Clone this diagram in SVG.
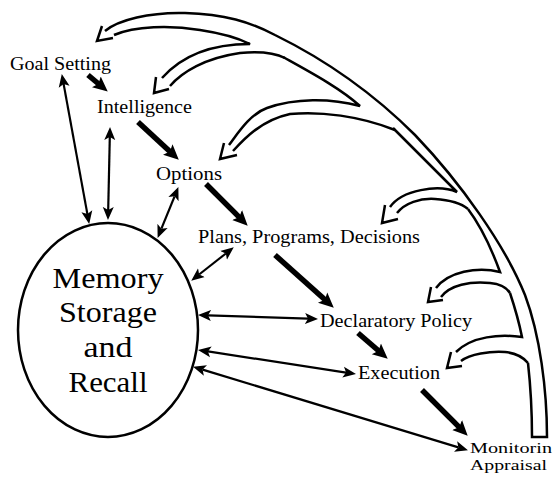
<svg xmlns="http://www.w3.org/2000/svg" width="554" height="477" viewBox="0 0 554 477">
<style>
text{font-family:"Liberation Serif","DejaVu Serif",serif;fill:#000}
.lbl{font-size:18px}
.mem{font-size:29px}
.band{fill:none;stroke:#000;stroke-width:2.5;stroke-linejoin:miter;stroke-linecap:butt}
.thick{fill:none;stroke:#000;stroke-width:5.5}
.thin{fill:none;stroke:#000;stroke-width:2.2}
</style>
<defs>
<marker id="hd" markerUnits="userSpaceOnUse" markerWidth="16" markerHeight="16" viewBox="0 0 16 16" refX="4" refY="8" orient="auto">
<path d="M0,1 L15,8 L0,15 L3,8 z" fill="#000"/>
</marker>
<marker id="th" markerUnits="userSpaceOnUse" markerWidth="14" markerHeight="12" viewBox="0 0 14 12" refX="3" refY="6" orient="auto-start-reverse">
<path d="M0,0.5 L13,6 L0,11.5 L3,6 z" fill="#000"/>
</marker>
</defs>

<g id="connectors">
<g id="feedback">
<path class="band" d="M105,31 C118,20 150,12 185,13 C225,14 250,22 275,35 C330,62 375,95 415,135 C460,182 505,245 525,295 C540,335 547,390 547,437 L532,437 C532,415 531,390 528,363"/>
<path class="band" d="M102,26 L97,41 L113,38"/>
<path class="band" d="M114,35 C135,26 170,25 200,30 C220,33 238,38 250,44 C205,44 178,60 162,78"/>
<path class="band" d="M156,77 L154,93 L169,89"/>
<path class="band" d="M170,86 C182,72 205,58 240,53 C262,51 277,54 285,58"/>
<path class="band" d="M283,57 C310,72 340,88 360,106 C330,98 295,98 267,108 C250,114 238,133 229,145"/>
<path class="band" d="M224,143 L220,159 L237,155"/>
<path class="band" d="M233,151 C245,138 262,120 290,114 C320,111 360,116 395,130"/>
<path class="band" d="M393,128 C410,145 440,175 457,192 C438,184 402,190 390,207"/>
<path class="band" d="M385,205 L382,223 L398,219"/>
<path class="band" d="M397,213 C405,203 420,198 435,199 C450,200 462,204 468,209"/>
<path class="band" d="M468,209 C480,225 492,250 500,272 C477,266 448,272 436,288"/>
<path class="band" d="M431,287 L428,302 L443,300"/>
<path class="band" d="M441,297 C450,285 470,281 490,283 C500,284 507,288 510,293"/>
<path class="band" d="M510,293 C515,308 519,322 522,337 C500,334 472,336 456,352"/>
<path class="band" d="M451,352 L447,368 L462,366"/>
<path class="band" d="M461,361 C470,354 490,351 505,352 C515,353 523,357 528,363"/>
</g>
<g id="flow">
<line class="thick" x1="88" y1="75" x2="99.3" y2="84.5" marker-end="url(#hd)"/>
<line class="thick" x1="138" y1="122" x2="170.7" y2="152.2" marker-end="url(#hd)"/>
<line class="thick" x1="206" y1="184" x2="239.9" y2="217.9" marker-end="url(#hd)"/>
<line class="thick" x1="275" y1="255" x2="325.6" y2="300.3" marker-end="url(#hd)"/>
<line class="thick" x1="358" y1="333" x2="379.4" y2="351.5" marker-end="url(#hd)"/>
<line class="thick" x1="422" y1="390" x2="459.9" y2="427.9" marker-end="url(#hd)"/>
</g>
<g id="memory-links">
<line class="thin" x1="63.6" y1="83.9" x2="87.4" y2="214.1" marker-start="url(#th)" marker-end="url(#th)"/>
<line class="thin" x1="109.8" y1="137" x2="108.2" y2="210" marker-start="url(#th)" marker-end="url(#th)"/>
<line class="thin" x1="174.6" y1="196.3" x2="161.4" y2="228.7" marker-start="url(#th)" marker-end="url(#th)"/>
<line class="thin" x1="225.9" y1="253.5" x2="199.1" y2="274.5" marker-start="url(#th)" marker-end="url(#th)"/>
<line class="thin" x1="208" y1="315.3" x2="308" y2="318.7" marker-start="url(#th)" marker-end="url(#th)"/>
<line class="thin" x1="207.9" y1="351.4" x2="346.1" y2="372.6" marker-start="url(#th)" marker-end="url(#th)"/>
<line class="thin" x1="202.6" y1="369.6" x2="458.4" y2="447.4" marker-start="url(#th)" marker-end="url(#th)"/>
</g>
</g>

<g id="goal-setting"><text class="lbl" x="10" y="70" textLength="101" lengthAdjust="spacingAndGlyphs">Goal Setting</text></g>
<g id="intelligence"><text class="lbl" x="97" y="113" textLength="95" lengthAdjust="spacingAndGlyphs">Intelligence</text></g>
<g id="options"><text class="lbl" x="156" y="180" textLength="66" lengthAdjust="spacingAndGlyphs">Options</text></g>
<g id="plans"><text class="lbl" x="198" y="243" textLength="222" lengthAdjust="spacingAndGlyphs">Plans, Programs, Decisions</text></g>
<g id="declaratory-policy"><text class="lbl" x="320" y="327" textLength="152" lengthAdjust="spacingAndGlyphs">Declaratory Policy</text></g>
<g id="execution"><text class="lbl" x="358" y="379" textLength="82" lengthAdjust="spacingAndGlyphs">Execution</text></g>
<g id="monitoring"><text x="470" y="453" style="font-size:15px" textLength="82" lengthAdjust="spacingAndGlyphs">Monitorin</text><text x="470" y="470" style="font-size:15px" textLength="77" lengthAdjust="spacingAndGlyphs">Appraisal</text></g>
<g id="memory">
<ellipse cx="108" cy="330" rx="90" ry="107" fill="#fff" stroke="#000" stroke-width="2.5"/>
<text class="mem" text-anchor="middle" x="108" y="288" textLength="111" lengthAdjust="spacingAndGlyphs">Memory</text>
<text class="mem" text-anchor="middle" x="108" y="322" textLength="98" lengthAdjust="spacingAndGlyphs">Storage</text>
<text class="mem" text-anchor="middle" x="108" y="357" textLength="49" lengthAdjust="spacingAndGlyphs">and</text>
<text class="mem" text-anchor="middle" x="108" y="392" textLength="79" lengthAdjust="spacingAndGlyphs">Recall</text>
</g>
</svg>
